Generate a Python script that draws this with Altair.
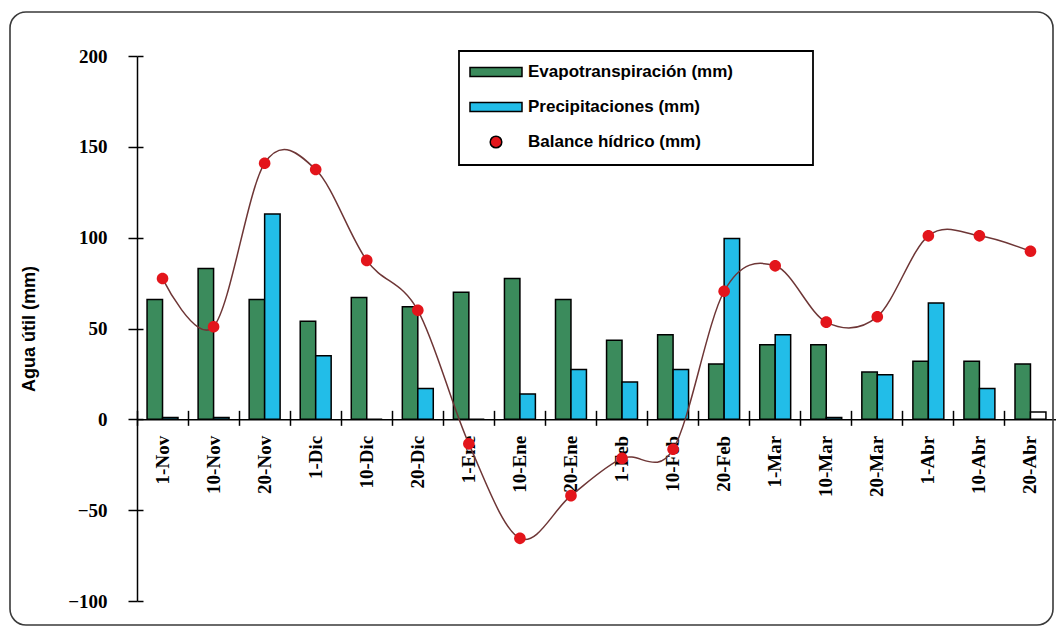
import altair as alt
import pandas as pd

categories = ["1-Nov", "10-Nov", "20-Nov", "1-Dic", "10-Dic", "20-Dic",
              "1-Ene", "10-Ene", "20-Ene", "1-Feb", "10-Feb", "20-Feb",
              "1-Mar", "10-Mar", "20-Mar", "1-Abr", "10-Abr", "20-Abr"]
evapo = [66, 83, 66, 54, 67, 62, 70, 77.5, 66, 43.5, 46.5, 30.5, 41, 41, 26, 32, 32, 30.5]
precip = [1, 1, 113, 35, 0, 17, 0, 14, 27.5, 20.5, 27.5, 99.5, 46.5, 1, 24.5, 64, 17, 4]
balance = [77.5, 51, 141, 137.5, 87.5, 60, -13.5, -65.5, -42, -21.5, -16.5, 70.5,
           84.5, 53.5, 56.5, 101, 101, 92.5]
y_ticks = [-100, -50, 0, 50, 100, 150, 200]

S_ET = "Evapotranspiración (mm)"
S_P = "Precipitaciones (mm)"
S_B = "Balance hídrico (mm)"
series_domain = [S_ET, S_P, S_B]

n = len(categories)
bars_df = pd.DataFrame({
    "cat": categories * 2,
    "series": [S_ET] * n + [S_P] * n,
    "value": evapo + precip,
})
bal_df = pd.DataFrame({"cat": categories, "series": [S_B] * n, "value": balance})

W, H = 919, 545
ZERO_Y = H * 200 / 300

x_scale = alt.Scale(domain=categories, paddingInner=0, paddingOuter=0)
y_scale = alt.Scale(domain=[-100, 200], nice=False, zero=False)
color_scale = alt.Scale(domain=series_domain, range=["#3b8b5c", "#22bde8", "#e3151b"])
SYM = 400  # symbol area -> unit square of 20 px
BAR_PATH = "M-2.6,-0.45H2.6V0.45H-2.6Z"
DOT_PATH = "M-0.58,0A0.58,0.58 0 1,0 0.58,0A0.58,0.58 0 1,0 -0.58,0Z"
shape_scale = alt.Scale(domain=series_domain, range=[BAR_PATH, BAR_PATH, DOT_PATH])

SERIF = "Liberation Serif"
SANS = "Liberation Sans"

legend_cfg = dict(
    orient="none", legendX=322, legendY=-5, title=None,
    labelFont=SANS, labelFontWeight="bold", labelFontSize=17, labelColor="black",
    labelLimit=600, symbolOffset=16, labelOffset=21,
    symbolSize=SYM, symbolStrokeColor="black", symbolStrokeWidth=1.5,
    padding=10, rowPadding=16,
)

# decorative chart-area frame and legend box
frame = alt.Chart(pd.DataFrame({"k": [0]})).mark_rect(
    fillOpacity=0, stroke="#3a3a3a", strokeWidth=1.6, cornerRadius=16
).encode(
    x=alt.value(-127), x2=alt.value(W - 3),
    y=alt.value(-44), y2=alt.value(H + 24),
)
legend_box = alt.Chart(pd.DataFrame({"k": [0]})).mark_rect(
    fillOpacity=0, stroke="black", strokeWidth=1.8
).encode(
    x=alt.value(322), x2=alt.value(676),
    y=alt.value(-5), y2=alt.value(109),
)

bars = alt.Chart(bars_df).mark_bar(stroke="black", strokeWidth=1.5).encode(
    x=alt.X("cat:N", scale=x_scale, sort=categories,
            axis=alt.Axis(orient="bottom", offset=-(H - ZERO_Y), bandPosition=0,
                          labelAngle=270, title=None,
                          grid=False, domainColor="black", domainWidth=1.5,
                          tickColor="black", tickWidth=1.5, tickSize=6,
                          labelPadding=10, labelFont=SERIF, labelFontWeight="bold",
                          labelFontSize=19, labelColor="black")),
    xOffset=alt.XOffset("series:N", sort=[S_ET, S_P],
                        scale=alt.Scale(domain=[S_ET, S_P], paddingInner=0, paddingOuter=0.65)),
    y=alt.Y("value:Q", scale=y_scale,
            axis=alt.Axis(orient="left", values=y_ticks, title="Agua útil (mm)",
                          grid=False, domainColor="black", domainWidth=1.5,
                          tickColor="black", tickWidth=1.5, tickSize=9,
                          labelPadding=21, labelFont=SERIF, labelFontWeight="bold",
                          labelFontSize=19, labelColor="black",
                          titleFont=SANS, titleFontSize=18, titleFontWeight="bold",
                          titleColor="black", titleX=-108, titleY=H / 2,
                          titleAngle=270, titleAlign="center", titleBaseline="middle")),
    color=alt.condition(
        "datum.cat == '20-Abr' && datum.series == 'Precipitaciones (mm)'",
        alt.value("white"),
        alt.Color("series:N", scale=color_scale, legend=alt.Legend(**legend_cfg)),
    ),
)

line = alt.Chart(bal_df).mark_line(
    color="#6e3636", strokeWidth=1.5, interpolate="cardinal", tension=0
).encode(
    x=alt.X("cat:N", scale=x_scale, sort=categories,
            axis=alt.Axis(orient="top", offset=-ZERO_Y, bandPosition=0, labels=False,
                          domain=False, title=None, grid=False, tickColor="black",
                          tickWidth=1.5, tickSize=9)),
    y=alt.Y("value:Q", scale=y_scale,
            axis=alt.Axis(orient="right", offset=-W, values=y_ticks, labels=False,
                          domain=False, title=None, grid=False, tickColor="black",
                          tickWidth=1.5, tickSize=6)),
)

points = alt.Chart(bal_df).mark_point(filled=True, size=SYM, opacity=1).encode(
    x=alt.X("cat:N", scale=x_scale, sort=categories, axis=None),
    y=alt.Y("value:Q", scale=y_scale, axis=None),
    color=alt.Color("series:N", scale=color_scale, legend=alt.Legend(**legend_cfg)),
    shape=alt.Shape("series:N", scale=shape_scale, legend=alt.Legend(**legend_cfg)),
)

chart = alt.layer(frame, legend_box, bars, line, points).resolve_axis(
    x="independent", y="independent"
).properties(
    width=W, height=H,
    autosize=alt.AutoSizeParams(type="none"),
    padding={"left": 129, "top": 48, "right": 0, "bottom": 26},
    background="white",
).configure_view(stroke=None)

chart.save("out.html", embed_options={"renderer": "svg", "actions": False})
